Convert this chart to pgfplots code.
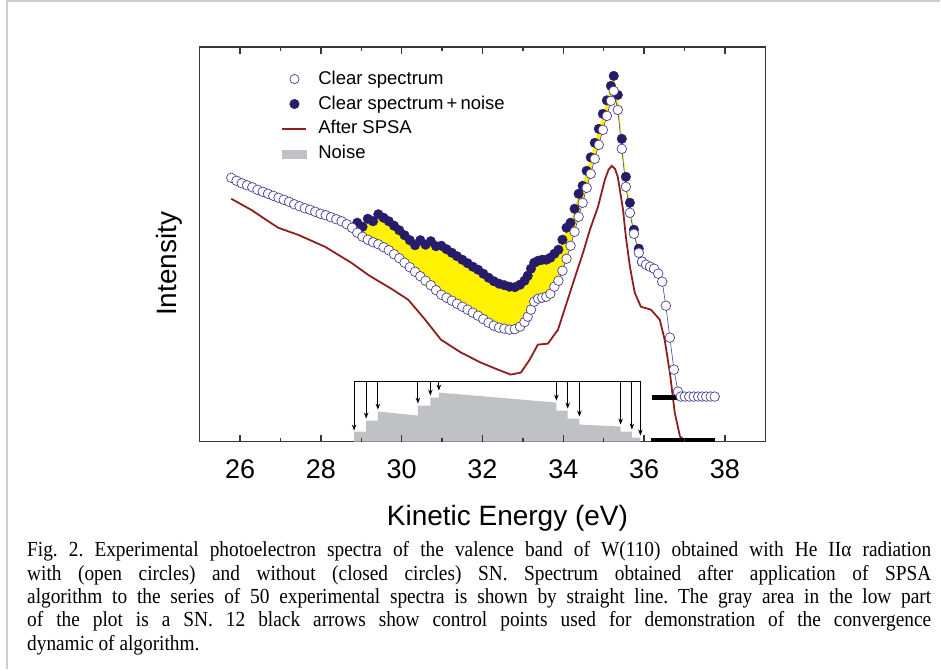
\documentclass[border=0pt]{standalone}
\usepackage{pgfplots}
\pgfplotsset{compat=1.18}
\usepackage{pgfplotstable}
\usetikzlibrary{arrows.meta}
\usepackage{fontspec}
\setmainfont{Liberation Sans}
\newfontfamily\capfont[FakeStretch=0.9]{Liberation Serif}

\definecolor{navyfill}{RGB}{38,28,105}
\definecolor{openedge}{RGB}{72,62,150}
\definecolor{spsared}{RGB}{140,32,30}
\definecolor{noisegray}{RGB}{192,193,197}
\definecolor{axisgray}{RGB}{55,55,55}
\definecolor{framegray}{RGB}{205,205,205}

% clear spectrum (open circles), intensity in arbitrary units
\pgfplotstableread{
x y
25.78 264
25.91 261
26.04 258.5
26.17 256.5
26.30 254.5
26.43 252
26.56 250
26.69 248
26.82 246
26.95 244
27.08 242
27.21 240
27.34 237.5
27.47 235.5
27.60 233.5
27.73 232
27.86 230
27.99 228
28.12 226.5
28.25 224.5
28.38 222.5
28.51 220.5
28.64 217.5
28.77 214
28.90 209
29.03 205
29.16 202
29.29 199.5
29.42 197.5
29.55 194.5
29.68 191.5
29.81 187.5
29.94 183.5
30.07 179
30.20 174.5
30.33 170
30.46 165.5
30.59 161
30.72 156.5
30.85 151.5
30.98 147
31.11 144
31.24 141
31.37 138
31.50 135
31.63 132
31.76 129
31.89 126
32.02 122.5
32.15 119
32.28 116
32.41 114
32.54 113
32.67 112
32.80 112.5
32.93 115
33.04 119.5
33.12 125
33.20 132
33.28 140
33.38 143
33.48 144
33.58 145
33.68 148
33.78 155
33.88 161
33.98 171
34.08 183
34.18 196
34.28 210
34.38 225
34.48 239
34.58 254
34.68 268
34.78 283
34.88 297
34.98 312
35.08 326
35.18 341
35.25 351
35.35 332
35.45 293
35.55 255
35.65 229
35.75 208
35.87 189
35.95 180
36.05 177
36.15 175
36.25 173
36.35 168
36.45 160
36.54 136
36.64 104
36.74 72
36.84 50
36.91 45
37.01 45
37.12 45
37.23 45
37.34 45
37.44 45
37.54 45
37.65 45
37.75 45
}\cleartab

% clear spectrum + noise (closed circles)
\pgfplotstableread{
x y
28.90 219
29.03 215
29.16 223
29.29 220.5
29.42 227.5
29.55 224
29.68 220.5
29.81 216
29.94 211.5
30.07 206.5
30.20 201.5
30.33 196.5
30.46 201.5
30.59 197
30.72 200.5
30.85 195.5
30.98 196
31.11 192.5
31.24 189
31.37 185.5
31.50 182
31.63 178.5
31.76 175
31.89 172
32.02 168
32.15 164
32.28 160.5
32.41 158
32.54 156.5
32.67 155
32.80 154.5
32.93 157
33.04 161
33.12 166
33.20 173
33.28 179
33.38 181
33.48 182
33.58 182
33.68 184
33.78 188
33.88 192
33.98 202
34.08 214
34.18 219
34.28 233
34.38 248
34.48 256
34.58 271
34.68 284.5
34.78 299
34.88 313
34.98 328
35.08 341.5
35.18 356
35.25 366
35.35 347
35.45 303
35.55 265
35.65 239
35.75 212
35.87 193
35.95 180
}\noisytab

% yellow band: noisy spectrum forward, clear spectrum back
\pgfplotstableread{
x y
28.90 219
29.03 215
29.16 223
29.29 220.5
29.42 227.5
29.55 224
29.68 220.5
29.81 216
29.94 211.5
30.07 206.5
30.20 201.5
30.33 196.5
30.46 201.5
30.59 197
30.72 200.5
30.85 195.5
30.98 196
31.11 192.5
31.24 189
31.37 185.5
31.50 182
31.63 178.5
31.76 175
31.89 172
32.02 168
32.15 164
32.28 160.5
32.41 158
32.54 156.5
32.67 155
32.80 154.5
32.93 157
33.04 161
33.12 166
33.20 173
33.28 179
33.38 181
33.48 182
33.58 182
33.68 184
33.78 188
33.88 192
33.98 202
34.08 214
34.18 219
34.28 233
34.38 248
34.48 256
34.58 271
34.68 284.5
34.78 299
34.88 313
34.98 328
35.08 341.5
35.18 356
35.25 366
35.35 347
35.45 303
35.55 265
35.65 239
35.75 212
35.87 193
35.95 180
35.87 189
35.75 208
35.65 229
35.55 255
35.45 293
35.35 332
35.25 351
35.18 341
35.08 326
34.98 312
34.88 297
34.78 283
34.68 268
34.58 254
34.48 239
34.38 225
34.28 210
34.18 196
34.08 183
33.98 171
33.88 161
33.78 155
33.68 148
33.58 145
33.48 144
33.38 143
33.28 140
33.20 132
33.12 125
33.04 119.5
32.93 115
32.80 112.5
32.67 112
32.54 113
32.41 114
32.28 116
32.15 119
32.02 122.5
31.89 126
31.76 129
31.63 132
31.50 135
31.37 138
31.24 141
31.11 144
30.98 147
30.85 151.5
30.72 156.5
30.59 161
30.46 165.5
30.33 170
30.20 174.5
30.07 179
29.94 183.5
29.81 187.5
29.68 191.5
29.55 194.5
29.42 197.5
29.29 199.5
29.16 202
29.03 205
28.90 209
}\bandtab

% spectrum after SPSA
\pgfplotstableread{
x y
25.78 243
26.27 232
26.94 214
27.43 207
28.10 195
28.75 179
29.20 166
29.74 153
30.16 142
30.58 122
30.97 102
31.47 89
31.96 79
32.38 72
32.70 67
32.95 69
33.17 82
33.37 97
33.62 98
33.87 112
34.11 142
34.31 167
34.49 189
34.66 212
34.86 235
35.03 262
35.12 272
35.20 276
35.28 273
35.35 265
35.48 232
35.55 205
35.65 175
35.77 149
35.92 135
36.17 132
36.39 122
36.51 102
36.64 69
36.76 29
36.89 5
37.01 1
37.75 0
}\spsatab

% noise (step profile)
\pgfplotstableread{
x y
28.82 0
28.82 10
29.12 10
29.12 21
29.41 21
29.41 30
30.40 26
30.40 36
30.71 36
30.71 44
30.92 44
30.92 49
33.83 39
33.83 31
34.11 31
34.11 23
34.40 23
34.40 17
35.42 15
35.42 10
35.70 10
35.70 4
35.91 4
35.91 0
}\noisetab

% 12 control points (arrows)
\pgfplotstableread{
x y u v
28.82 60.3 0 -49.3
29.12 60.3 0 -37.3
29.41 60.3 0 -28.3
30.40 60.3 0 -22.3
30.71 60.3 0 -14.3
30.92 60.3 0 -9.3
33.83 60.3 0 -19.3
34.11 60.3 0 -27.3
34.40 60.3 0 -35.3
35.42 60.3 0 -43.3
35.70 60.3 0 -48.3
35.91 60.3 0 -54.3
}\arrowtab

% inward tick marks (segments separated by nan)
\pgfplotstableread{
x y
26 0
26 7
26 nan
27 0
27 4
27 nan
28 0
28 7
28 nan
29 0
29 4
29 nan
30 0
30 7
30 nan
31 0
31 4
31 nan
32 0
32 7
32 nan
33 0
33 4
33 nan
34 0
34 7
34 nan
35 0
35 4
35 nan
36 0
36 7
36 nan
37 0
37 4
37 nan
38 0
38 7
38 nan
26 395
26 388
26 nan
27 395
27 391
27 nan
28 395
28 388
28 nan
29 395
29 391
29 nan
30 395
30 388
30 nan
31 395
31 391
31 nan
32 395
32 388
32 nan
33 395
33 391
33 nan
34 395
34 388
34 nan
35 395
35 391
35 nan
36 395
36 388
36 nan
37 395
37 391
37 nan
38 395
38 388
}\ticktab

\begin{document}
\frenchspacing
\begin{tikzpicture}
\path (0pt,0pt) rectangle (941pt,670pt);
\draw[framegray, line width=2pt] (7pt,0pt) -- (7pt,669pt) -- (941pt,669pt);

\begin{axis}[
  at={(200pt,228pt)}, anchor=south west,
  scale only axis,
  width=566pt, height=395pt,
  xmin=25, xmax=39, ymin=0, ymax=395,
  axis line style={axisgray, line width=1.3pt},
  xtick={26,28,...,38},
  ytick=\empty,
  tick align=inside,
  tickwidth=7pt,
  xtick style={draw=axisgray, line width=1.2pt},
  /pgf/number format/assume math mode=true,
  xticklabel style={font=\fontsize{27}{27}\selectfont, inner sep=0pt, yshift=-18pt},
  legend style={at={(0.139,0.947)}, anchor=north west, draw=none, fill=none,
    font=\fontsize{18.5}{20}\selectfont, row sep=7pt,
    nodes={inner sep=0pt, text height=14pt, text depth=4pt},
    /tikz/every odd column/.append style={column sep=11pt}},
  legend cell align=left,
]
% yellow band between the two spectra
\addplot[fill=yellow, draw=none, forget plot] table[x=x,y=y] {\bandtab} -- cycle;

% noise
\addplot[fill=noisegray, draw=none, forget plot] table[x=x,y=y] {\noisetab} -- cycle;

% control points
\addplot[black, line width=0.9pt, forget plot] coordinates {(28.82,60.3) (35.93,60.3)};
\addplot[black, line width=0.9pt, -{Stealth[length=6pt,width=4.5pt]},
  quiver={u=\thisrow{u}, v=\thisrow{v}}, forget plot] table[x=x,y=y] {\arrowtab};

% after SPSA
\addplot[spsared, line width=1.8pt, forget plot] table[x=x,y=y] {\spsatab};

% clear spectrum + noise
\addplot[only marks, mark=*, mark size=4.8pt, mark options={fill=navyfill, draw=navyfill}, forget plot]
  table[x=x,y=y] {\noisytab};

% clear spectrum
\addplot[openedge, line width=0.6pt, mark=*, mark size=4.8pt,
  mark options={fill=white, draw=openedge, line width=0.7pt}, forget plot]
  table[x=x,y=y] {\cleartab};

% baseline markers
\addplot[black, line width=5pt, forget plot] coordinates {(36.19,44.3) (36.84,44.3)};
\addplot[black, line width=5pt, forget plot] coordinates {(36.17,1.5) (37.75,1.5)};

% tick marks
\addplot[axisgray, line width=1.5pt, unbounded coords=jump, forget plot]
  table[x=x,y=y] {\ticktab};

\addlegendimage{legend image code/.code={\draw[openedge, fill=white, line width=0.7pt] (12pt,0pt) circle (4.6pt);}}
\addlegendentry{Clear spectrum}
\addlegendimage{legend image code/.code={\fill[navyfill] (12pt,0pt) circle (4.8pt);}}
\addlegendentry{Clear spectrum\,+\,noise}
\addlegendimage{legend image code/.code={\draw[spsared, line width=1.8pt] (0pt,0pt) -- (24pt,0pt);}}
\addlegendentry{After SPSA}
\addlegendimage{legend image code/.code={\fill[noisegray] (0pt,-4pt) rectangle (24pt,4pt);}}
\addlegendentry{Noise}
\end{axis}

\node[anchor=base, font=\fontsize{28}{28}\selectfont] at (508pt,144pt) {Kinetic Energy (eV)};
\node[anchor=base, rotate=90, font=\fontsize{28}{28}\selectfont] at (177pt,406pt) {Intensity};

\node[anchor=north west, inner sep=0pt, text width=905pt, align=justify,
  font=\capfont\fontsize{21.5}{23.4}\selectfont] at (27pt,128pt)
{Fig. 2. Experimental photoelectron spectra of the valence band of W(110) obtained with He IIα radiation\linebreak
with (open circles) and without (closed circles) SN. Spectrum obtained after application of SPSA\linebreak
algorithm to the series of 50 experimental spectra is shown by straight line. The gray area in the low part\linebreak
of the plot is a SN. 12 black arrows show control points used for demonstration of the convergence\linebreak
dynamic of algorithm.};
\end{tikzpicture}
\end{document}
